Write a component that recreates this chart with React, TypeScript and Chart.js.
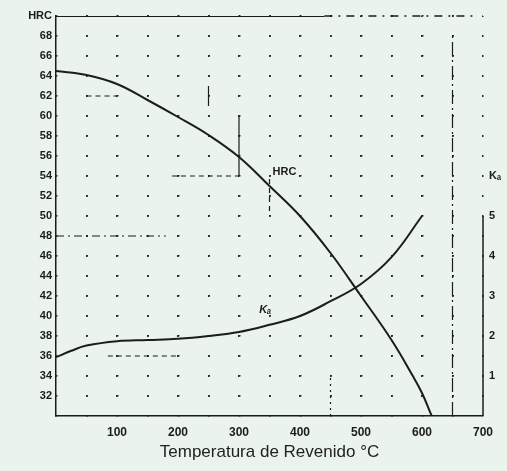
import React, { useEffect, useRef } from "react";
import { Chart, registerables } from "chart.js";
Chart.register(...registerables);

// Temperature (°C) vs HRC hardness
const HRC_TEMPS = [0, 50, 100, 150, 200, 250, 300, 350, 400, 450, 500, 550, 585, 600, 616];
const HRC_VALUES = [64.5, 64.1, 63.2, 61.6, 59.9, 58.1, 55.9, 53.0, 50.0, 46.3, 42.0, 37.6, 34.0, 32.3, 30.0];

// Temperature (°C) vs Ka (right axis)
const KA_TEMPS = [0, 25, 50, 100, 150, 200, 250, 300, 350, 400, 450, 500, 550, 600];
const KA_VALUES = [1.47, 1.63, 1.76, 1.87, 1.9, 1.93, 2.0, 2.1, 2.28, 2.5, 2.87, 3.3, 3.97, 5.0];

// Axis ticks
const X_MIN = 0;
const X_MAX = 700;
const X_LABELS = [100, 200, 300, 400, 500, 600, 700];
const HRC_MIN = 30;
const HRC_MAX = 70;
const KA_MIN = 0;
const KA_MAX = 10;
const KA_LABELS = [1, 2, 3, 4, 5];

// Reading guides: horizontal [hrc, tFrom, tTo], vertical [t, hrcFrom, hrcTo]
const GUIDE_H = [
  [70, 0, 440],
  [48, 0, 180],
  [62, 50, 100],
  [54, 190, 300],
  [36, 85, 200],
];
const GUIDE_V = [
  [650, 30, 68],
  [250, 61, 63],
  [300, 54, 60],
  [350, 50.5, 54],
  [450, 30, 34],
];
const FRAME_TOP_DASHED = [440, 690];
const KA_AXIS_LINE = [0, 5];

const HRC_LABEL = { t: 355, v: 54.4, text: "HRC" };
const KA_LABEL = { t: 333, v: 2.65, text: "Kₐ" };

const INK = "#1c1c1c";
const FONT = "'Liberation Sans', Arial, sans-serif";

export default function App() {
  const ref = useRef<HTMLCanvasElement | null>(null);
  useEffect(() => {
    document.body.style.margin = "0";
    document.body.style.background = "#eaf3ec";
    const canvas = ref.current!;
    const labelPlugin = {
      id: "labels",
      afterDatasetsDraw(chart: any) {
        const { ctx, scales } = chart;
        const x = scales.x, y = scales.y, k = scales.yK;
        ctx.save();
        ctx.fillStyle = INK;
        ctx.textBaseline = "middle";
        ctx.textAlign = "left";
        ctx.font = `bold 11px ${FONT}`;
        ctx.fillText(HRC_LABEL.text, x.getPixelForValue(HRC_LABEL.t), y.getPixelForValue(HRC_LABEL.v));
        ctx.font = `italic bold 11px ${FONT}`;
        ctx.fillText(KA_LABEL.text, x.getPixelForValue(KA_LABEL.t), k.getPixelForValue(KA_LABEL.v));
        // dashed top frame continuation
        ctx.strokeStyle = INK;
        ctx.lineWidth = 1.5;
        ctx.setLineDash([8, 6, 2, 6]);
        ctx.beginPath();
        ctx.moveTo(x.getPixelForValue(FRAME_TOP_DASHED[0]), y.getPixelForValue(HRC_MAX));
        ctx.lineTo(x.getPixelForValue(FRAME_TOP_DASHED[1]), y.getPixelForValue(HRC_MAX));
        ctx.stroke();
        // right Ka axis line
        ctx.setLineDash([]);
        ctx.beginPath();
        ctx.moveTo(x.getPixelForValue(X_MAX), k.getPixelForValue(KA_AXIS_LINE[0]));
        ctx.lineTo(x.getPixelForValue(X_MAX), k.getPixelForValue(KA_AXIS_LINE[1]));
        ctx.stroke();
        ctx.restore();
      },
    };

    const guideSets: any[] = [];
    GUIDE_H.forEach((g, i) => {
      guideSets.push({
        data: [{ x: g[1], y: g[0] }, { x: g[2], y: g[0] }],
        borderColor: INK,
        borderWidth: i === 0 ? 1.8 : 1.2,
        borderDash: i === 0 ? [] : i === 1 ? [8, 4, 2, 4] : [5, 4],
        pointRadius: 0,
        yAxisID: "y",
      });
    });
    GUIDE_V.forEach((g, i) => {
      guideSets.push({
        data: [{ x: g[0], y: g[1] }, { x: g[0], y: g[2] }],
        borderColor: INK,
        borderWidth: 1.2,
        borderDash: i === 0 ? [14, 4, 2, 4] : i === 4 ? [2, 4] : i === 3 ? [5, 4] : [],
        pointRadius: 0,
        yAxisID: "y",
      });
    });

    const chart = new Chart(canvas, {
      type: "line",
      data: {
        datasets: [
          {
            label: "HRC",
            data: HRC_TEMPS.map((t, i) => ({ x: t, y: HRC_VALUES[i] })),
            borderColor: INK,
            borderWidth: 2,
            pointRadius: 0,
            tension: 0.4,
            yAxisID: "y",
          },
          {
            label: "Ka",
            data: KA_TEMPS.map((t, i) => ({ x: t, y: KA_VALUES[i] })),
            borderColor: INK,
            borderWidth: 2,
            pointRadius: 0,
            tension: 0.4,
            yAxisID: "yK",
          },
          ...guideSets,
        ],
      },
      options: {
        animation: false,
        responsive: false,
        maintainAspectRatio: false,
        layout: { padding: { top: 16, left: 0, right: 0, bottom: 0 } },
        plugins: { legend: { display: false }, tooltip: { enabled: false }, title: { display: false } },
        scales: {
          x: {
            type: "linear",
            min: X_MIN,
            max: X_MAX,
            afterFit: (s: any) => { s.height = 55; },
            afterBuildTicks: (s: any) => {
              const t = [];
              for (let v = X_MIN; v <= X_MAX; v += 50) t.push({ value: v });
              s.ticks = t;
            },
            ticks: {
              autoSkip: false,
              maxRotation: 0,
              padding: 9,
              color: INK,
              font: { family: FONT, size: 12, weight: "bold" },
              callback: (v: any) => (X_LABELS.includes(v) ? String(v) : ""),
            },
            grid: { color: "#2a2a2a", lineWidth: 1.5, drawTicks: false },
            border: { display: true, color: INK, width: 1.5, dash: [2, 18], dashOffset: 1 },
            title: {
              display: true,
              text: "Temperatura de Revenido °C",
              color: "#222",
              font: { family: FONT, size: 17 },
              padding: { top: 0, bottom: 8 },
            },
          },
          y: {
            type: "linear",
            position: "left",
            min: HRC_MIN,
            max: HRC_MAX,
            afterFit: (s: any) => { s.width = 56; },
            ticks: {
              stepSize: 2,
              padding: 4,
              color: INK,
              font: { family: FONT, size: 11, weight: "bold" },
              callback: (v: any) => (v === HRC_MAX ? "HRC" : v === HRC_MIN ? "" : String(v)),
            },
            grid: { color: "#2a2a2a", lineWidth: 1.5, drawTicks: false },
            border: { display: true, color: INK, width: 1.5, dash: [2, 28.5], dashOffset: 1 },
          },
          yK: {
            type: "linear",
            position: "right",
            min: KA_MIN,
            max: KA_MAX,
            afterFit: (s: any) => { s.width = 24; },
            ticks: {
              stepSize: 1,
              padding: 6,
              color: INK,
              font: { family: FONT, size: 11, weight: "bold" },
              callback: (v: any) => (KA_LABELS.includes(v) ? String(v) : v === 6 ? "Kₐ" : ""),
            },
            grid: { display: false, drawTicks: false },
            border: { display: false },
          },
        },
      },
      plugins: [labelPlugin],
    });
    return () => chart.destroy();
  }, []);
  return (
    <div style={{ position: "fixed", left: 0, top: 0, width: 507, height: 471, background: "#eaf3ec" }}>
      <canvas ref={ref} width={507} height={471} style={{ display: "block" }} />
    </div>
  );
}
